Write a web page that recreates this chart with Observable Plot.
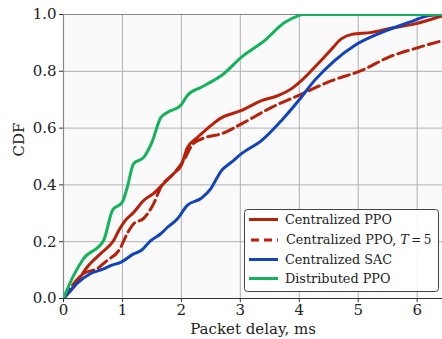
<!DOCTYPE html>
<html><head><meta charset="utf-8">
<script src="https://cdn.jsdelivr.net/npm/d3@7"></script>
<script src="https://cdn.jsdelivr.net/npm/@observablehq/plot@0.6"></script>
<style>
body{margin:0;background:#fff;}
#chart{position:relative;width:442px;height:339px;}
</style></head>
<body><div id="chart"></div>
<script>
const seriesNames = ["Centralized PPO", "Centralized PPO, T=5", "Centralized SAC", "Distributed PPO"];
const colors = ["#b8200a", "#b8200a", "#1144bb", "#13b35b"];

const ppoX = [0,0.17,0.4,0.63,0.85,0.94,1.05,1.19,1.36,1.53,1.7,1.87,2.0,2.1,2.27,2.44,2.61,2.68,3.02,3.36,3.65,3.87,4.04,4.26,4.5,4.72,4.89,5.23,5.52,5.96,6.43];
const ppoY = [0,0.039,0.11,0.158,0.204,0.24,0.275,0.303,0.345,0.37,0.405,0.44,0.47,0.53,0.567,0.598,0.627,0.636,0.662,0.697,0.715,0.739,0.768,0.814,0.867,0.915,0.93,0.937,0.95,0.967,0.996];

const ppoT5X = [0,0.34,0.57,0.74,0.94,1.08,1.19,1.36,1.53,1.65,1.87,2.05,2.2,2.41,2.68,3.02,3.53,4.04,4.55,5.06,5.52,5.96,6.43];
const ppoT5Y = [0,0.088,0.105,0.134,0.169,0.228,0.263,0.282,0.334,0.392,0.44,0.49,0.545,0.567,0.58,0.615,0.673,0.72,0.767,0.803,0.85,0.88,0.908];

const sacX = [0,0.23,0.46,0.68,0.8,0.97,1.19,1.31,1.48,1.65,1.76,1.93,2.1,2.33,2.5,2.61,2.68,2.85,3.02,3.36,3.7,3.99,4.26,4.6,4.94,5.4,5.86,6.2,6.43];
const sacY = [0,0.053,0.088,0.104,0.116,0.127,0.157,0.168,0.204,0.228,0.25,0.28,0.328,0.352,0.387,0.427,0.45,0.48,0.51,0.556,0.627,0.697,0.768,0.838,0.891,0.937,0.972,0.996,1.0];

const dppoX = [0,0.1,0.34,0.68,0.83,1.0,1.08,1.19,1.36,1.5,1.65,1.76,1.99,2.1,2.33,2.55,2.68,3.02,3.41,3.75,3.99,4.05,6.43];
const dppoY = [0,0.05,0.14,0.204,0.31,0.34,0.39,0.475,0.497,0.55,0.637,0.655,0.68,0.715,0.743,0.768,0.785,0.85,0.908,0.972,0.996,1.0,1.0];

const xTicks = [0,1,2,3,4,5,6];
const yTicks = [0,0.2,0.4,0.6,0.8,1.0];

const toRows = (xs, ys) => xs.map((x, i) => ({x, y: ys[i]}));
const rows = [toRows(ppoX, ppoY), toRows(ppoT5X, ppoT5Y), toRows(sacX, sacY), toRows(dppoX, dppoY)];

const font = "'DejaVu Serif', serif";
const W = 442, H = 339, mL = 63, mT = 14, mB = 41, mR = 0;
const crv = "monotone-x";

const plot = Plot.plot({
  width: W, height: H,
  marginLeft: mL, marginTop: mT, marginBottom: mB, marginRight: mR,
  style: {fontFamily: font, fontSize: "14px", background: "#fff", color: "#222"},
  x: {domain: [0, 6.43], ticks: xTicks, tickFormat: d3.format("d"), label: null, tickSize: 4},
  y: {domain: [0, 1], ticks: yTicks, tickFormat: d3.format(".1f"), label: null, tickSize: 4},
  marks: [
    Plot.frame({fill: "#fafafa", stroke: null}),
    Plot.gridX(xTicks, {stroke: "#b0b0b0", strokeOpacity: 1, strokeWidth: 1}),
    Plot.gridY(yTicks, {stroke: "#b0b0b0", strokeOpacity: 1, strokeWidth: 1}),
    Plot.ruleX([0], {stroke: "#888", strokeWidth: 1.2}),
    Plot.ruleY([1], {stroke: "#888", strokeWidth: 1.2}),
    Plot.ruleY([0], {stroke: "#333", strokeWidth: 1.2}),
    Plot.lineY(rows[0], {x: "x", y: "y", stroke: colors[0], strokeWidth: 3, curve: crv, clip: true}),
    Plot.lineY(rows[1], {x: "x", y: "y", stroke: colors[1], strokeWidth: 3, curve: crv, strokeDasharray: "11,5", clip: true}),
    Plot.lineY(rows[2], {x: "x", y: "y", stroke: colors[2], strokeWidth: 3, curve: crv, clip: true}),
    Plot.lineY(rows[3], {x: "x", y: "y", stroke: colors[3], strokeWidth: 3, curve: crv, clip: true}),
    Plot.axisX(xTicks, {tickFormat: d3.format("d"), tickSize: 4, fontSize: 15, tickPadding: 2, stroke: "#333"}),
    Plot.axisY(yTicks, {tickFormat: d3.format(".1f"), tickSize: 4, fontSize: 15, tickPadding: 3, stroke: "#333"}),
    Plot.text(["Packet delay, ms"], {frameAnchor: "bottom", dy: 35, fontSize: 15, fill: "#222"}),
    Plot.text(["CDF"], {frameAnchor: "left", dx: -44, rotate: -90, fontSize: 15, fill: "#222"})
  ]
});

const svg = d3.select(plot);
// legend
const lg = svg.append("g").attr("font-family", font).attr("font-size", 12.8).attr("text-anchor", "start");
lg.append("rect").attr("x", 244.5).attr("y", 209.5).attr("width", 194).attr("height", 82)
  .attr("rx", 3).attr("fill", "#fff").attr("fill-opacity", 0.9).attr("stroke", "#444").attr("stroke-width", 1);
const rowY = [219.5, 240, 259.5, 278.5];
seriesNames.forEach((name, i) => {
  const line = lg.append("line").attr("x1", 249).attr("x2", 278).attr("y1", rowY[i]).attr("y2", rowY[i])
    .attr("stroke", colors[i]).attr("stroke-width", 3);
  if (i === 1) line.attr("stroke-dasharray", "8,5").attr("x1", 251);
  const t = lg.append("text").attr("x", i === 1 ? 286 : 285).attr("y", rowY[i]).attr("dy", "0.35em")
    .attr("fill", "#222").attr("text-anchor", "start");
  if (i === 1) {
    t.append("tspan").text("Centralized PPO, ");
    t.append("tspan").attr("font-style", "italic").text("T");
    t.append("tspan").attr("font-size", 12).text("\u2009=\u20095");
  } else {
    t.text(name);
  }
});
document.getElementById("chart").appendChild(plot);
</script>
</body></html>
